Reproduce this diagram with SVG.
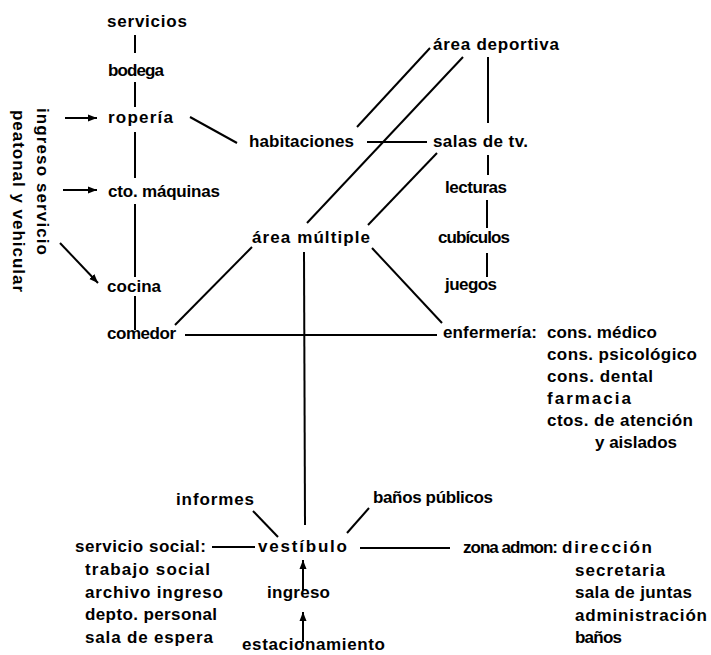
<svg xmlns="http://www.w3.org/2000/svg" width="711" height="655" viewBox="0 0 711 655">
<style>
text{font-family:"Liberation Sans",Arial,sans-serif;font-weight:bold;font-size:17px;fill:#000}
.c line{stroke:#000;stroke-width:2;fill:none}
</style>
<defs>
<marker id="ah" markerWidth="10" markerHeight="8" refX="9" refY="4" orient="auto" markerUnits="userSpaceOnUse">
<path d="M0,0.5 L9,4 L0,7.5 Z" fill="#000"/>
</marker>
</defs>
<rect width="711" height="655" fill="#fff"/>
<g class="c" id="connectors">
<line x1="135" y1="35" x2="135" y2="53"/>
<line x1="135" y1="82" x2="135" y2="107"/>
<line x1="135" y1="132" x2="135" y2="178"/>
<line x1="135" y1="204" x2="135" y2="277"/>
<line x1="135" y1="296" x2="135" y2="330"/>
<line x1="65" y1="118" x2="97" y2="118" marker-end="url(#ah)"/>
<line x1="63" y1="190" x2="97" y2="190" marker-end="url(#ah)"/>
<line x1="60" y1="243" x2="98" y2="283" marker-end="url(#ah)"/>
<line x1="190" y1="117" x2="237" y2="143"/>
<line x1="367" y1="142" x2="427" y2="142"/>
<line x1="357" y1="127" x2="430" y2="48"/>
<line x1="307" y1="223" x2="463" y2="57"/>
<line x1="368" y1="225" x2="437" y2="153"/>
<line x1="488" y1="57" x2="488" y2="123"/>
<line x1="488" y1="155" x2="488" y2="175"/>
<line x1="487" y1="200" x2="487" y2="228"/>
<line x1="487" y1="253" x2="487" y2="277"/>
<line x1="175" y1="325" x2="252" y2="247"/>
<line x1="372" y1="248" x2="442" y2="323"/>
<line x1="185" y1="335" x2="437" y2="335"/>
<line x1="304" y1="252" x2="305" y2="525"/>
<line x1="253" y1="511" x2="278" y2="537"/>
<line x1="369" y1="508" x2="347" y2="533"/>
<line x1="212" y1="547" x2="255" y2="547"/>
<line x1="360" y1="548" x2="450" y2="548"/>
<line x1="303" y1="590" x2="303" y2="560" marker-end="url(#ah)"/>
<line x1="303" y1="642" x2="303" y2="612" marker-end="url(#ah)"/>
</g>
<g id="ingreso-servicio">
<text transform="translate(37,108) rotate(90)" textLength="147">ingreso servicio</text>
<text transform="translate(13,110) rotate(90)" textLength="182">peatonal y vehicular</text>
</g>
<g id="servicios"><text x="107" y="27" textLength="80">servicios</text></g>
<g id="bodega"><text x="108" y="76" textLength="56">bodega</text></g>
<g id="roperia"><text x="108" y="123" textLength="65">ropería</text></g>
<g id="cto-maquinas"><text x="108" y="197" textLength="112">cto. máquinas</text></g>
<g id="cocina"><text x="107" y="292" textLength="54">cocina</text></g>
<g id="comedor"><text x="107" y="339" textLength="69">comedor</text></g>
<g id="habitaciones"><text x="249" y="147" textLength="105">habitaciones</text></g>
<g id="area-deportiva"><text x="433" y="50" textLength="126">área deportiva</text></g>
<g id="salas-tv"><text x="433" y="147" textLength="95">salas de tv.</text></g>
<g id="lecturas"><text x="445" y="193" textLength="62">lecturas</text></g>
<g id="area-multiple"><text x="252" y="243" textLength="118">área múltiple</text></g>
<g id="cubiculos"><text x="438" y="243" textLength="72">cubículos</text></g>
<g id="juegos"><text x="445" y="290" textLength="52">juegos</text></g>
<g id="enfermeria">
<text x="443" y="338" textLength="94">enfermería:</text>
<text x="547" y="338" textLength="110">cons. médico</text>
<text x="547" y="360" textLength="150">cons. psicológico</text>
<text x="547" y="382" textLength="106">cons. dental</text>
<text x="547" y="404" textLength="84">farmacia</text>
<text x="547" y="426" textLength="146">ctos. de atención</text>
<text x="595" y="448" textLength="82">y aislados</text>
</g>
<g id="informes"><text x="176" y="505" textLength="78">informes</text></g>
<g id="banos-publicos"><text x="373" y="503" textLength="120">baños públicos</text></g>
<g id="servicio-social">
<text x="75" y="552" textLength="131">servicio social:</text>
<text x="85" y="575" textLength="125">trabajo social</text>
<text x="85" y="598" textLength="138">archivo ingreso</text>
<text x="85" y="620" textLength="132">depto. personal</text>
<text x="85" y="643" textLength="128">sala de espera</text>
</g>
<g id="vestibulo"><text x="258" y="552" textLength="89">vestíbulo</text></g>
<g id="zona-admon">
<text x="463" y="553" textLength="95">zona admon:</text>
<text x="562" y="553" textLength="90">dirección</text>
<text x="575" y="576" textLength="90">secretaria</text>
<text x="575" y="598" textLength="117">sala de juntas</text>
<text x="575" y="621" textLength="132">administración</text>
<text x="575" y="643" textLength="47">baños</text>
</g>
<g id="ingreso"><text x="267" y="598" textLength="63">ingreso</text></g>
<g id="estacionamiento"><text x="242" y="650" textLength="143">estacionamiento</text></g>
</svg>
